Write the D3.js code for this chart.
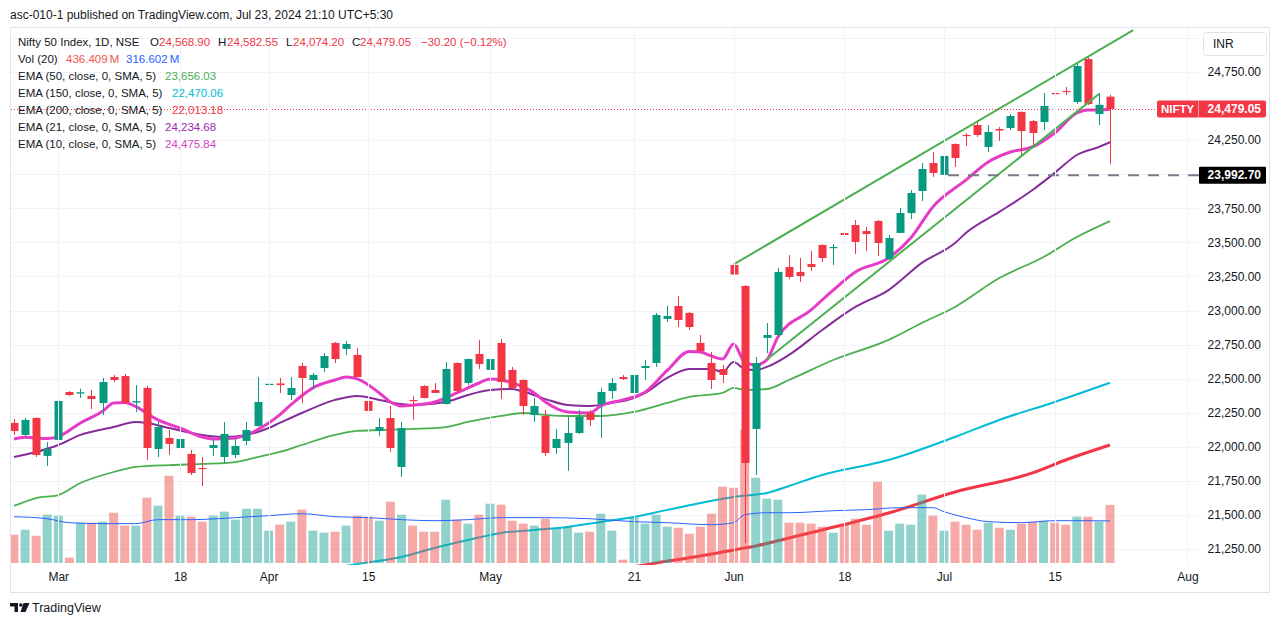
<!DOCTYPE html>
<html><head><meta charset="utf-8">
<script src="https://cdn.jsdelivr.net/npm/d3@7"></script>
<style>body{margin:0;background:#fff;overflow:hidden}</style>
</head><body>
<svg id="c" width="1281" height="627"></svg>
<script>
// ---------- DATA ----------
const dates = ["2024-02-26","2024-02-27","2024-02-28","2024-02-29","2024-03-01","2024-03-02","2024-03-04","2024-03-05","2024-03-06","2024-03-07",
"2024-03-11","2024-03-12","2024-03-13","2024-03-14","2024-03-15","2024-03-18","2024-03-19","2024-03-20","2024-03-21","2024-03-22",
"2024-03-26","2024-03-27","2024-03-28","2024-04-01","2024-04-02","2024-04-03","2024-04-04","2024-04-05","2024-04-08","2024-04-09",
"2024-04-10","2024-04-12","2024-04-15","2024-04-16","2024-04-18","2024-04-19","2024-04-22","2024-04-23","2024-04-24","2024-04-25",
"2024-04-26","2024-04-29","2024-04-30","2024-05-02","2024-05-03","2024-05-06","2024-05-07","2024-05-08","2024-05-09","2024-05-10",
"2024-05-13","2024-05-14","2024-05-15","2024-05-16","2024-05-17","2024-05-18","2024-05-21","2024-05-22","2024-05-23","2024-05-24",
"2024-05-27","2024-05-28","2024-05-29","2024-05-30","2024-05-31","2024-06-03","2024-06-04","2024-06-05","2024-06-06","2024-06-07",
"2024-06-10","2024-06-11","2024-06-12","2024-06-13","2024-06-14","2024-06-18","2024-06-19","2024-06-20","2024-06-21","2024-06-24",
"2024-06-25","2024-06-26","2024-06-27","2024-06-28","2024-07-01","2024-07-02","2024-07-03","2024-07-04","2024-07-05","2024-07-08",
"2024-07-09","2024-07-10","2024-07-11","2024-07-12","2024-07-15","2024-07-16","2024-07-18","2024-07-19","2024-07-22","2024-07-23"];

const open = [22175,22087,22212,21933,22050,22402,22390,22373,22321,22512,
22519,22325,22432,21984,22065,21991,21947,21845,21991,21925,
21940,22043,22153,22455,22465,22380,22593,22490,22578,22762,
22718,22674,22336,22116,22211,21852,22343,22446,22417,22314,
22615,22468,22681,22564,22762,22564,22490,22233,22226,21991,
22028,22101,22248,22314,22409,22512,22395,22578,22615,22938,
23033,22982,22762,22615,22571,23334,23180,22131,22799,22820,
23319,23283,23341,23481,23459,23569,23627,23583,23657,23378,
23569,23715,23877,24082,23995,24222,24288,24361,24200,24332,
24339,24457,24390,24383,24596,24611,24530,24845,24442,24568.90];

const high = [22204,22212,22215,22035,22351,22409,22426,22417,22505,22527,
22534,22453,22446,22182,22123,22116,21977,21925,22050,22182,
22065,22182,22512,22527,22505,22512,22615,22542,22688,22768,
22776,22725,22417,22211,22300,22182,22373,22452,22468,22622,
22620,22648,22784,22710,22791,22586,22495,22358,22270,22131,
22219,22270,22270,22432,22505,22527,22593,22637,22982,23033,
23106,22989,22820,22696,22600,23340,23185,22659,22908,23312,
23407,23385,23437,23485,23488,23572,23664,23613,23664,23554,
23752,23884,24082,24163,24140,24226,24302,24398,24361,24346,
24442,24460,24398,24596,24633,24640,24816,24860,24595,24582.55];

const low = [22087,22080,21925,21859,22043,22373,22358,22277,22233,22475,
22321,22255,21903,21925,21940,21940,21793,21713,21933,21881,
21918,22013,22146,22417,22395,22343,22321,22424,22549,22615,
22673,22512,22263,22080,21962,21779,22197,22355,22395,22310,
22395,22453,22571,22560,22351,22424,22233,22182,21933,21948,
21823,22094,22153,22065,22351,22490,22390,22490,22586,22916,
22879,22857,22688,22424,22468,23063,21294,21793,22688,22806,
23231,23209,23290,23356,23334,23495,23415,23437,23400,23371,
23569,23671,23803,23980,23992.70,24053,24207,24273,24163,24244,
24324,24141,24207,24324,24523,24581,24515,24508,24361,24074.20];

const close = [22116,22197,21940,21984,22336,22380,22400,22350,22475,22490,
22321,22335,21991,22145,22021,22057,21808,21839,22013,22094,
22006,22123,22329,22462,22453,22432,22505,22527,22666,22644,
22754,22512,22263,22145,21991,22138,22336,22358,22395,22571,
22409,22644,22608,22644,22475,22432,22299,22299,21955,22057,
22101,22219,22197,22402,22468,22497,22527,22593,22967,22960,
22930,22879,22703,22490,22527,23264,21881,22615,22820,23283,
23246,23253,23319,23385,23466,23554,23503,23561,23495,23532,
23715,23862,24038,24009,24134,24119,24281,24288,24310,24320,
24427,24317,24302,24501,24589,24603,24794,24515,24509.25,24479.05];

// volume in millions
const volume = [213,250,205,363,356,40,303,303,311,378,
281,281,491,431,656,356,348,311,356,386,
326,408,408,243,288,311,401,243,228,235,
281,356,348,318,461,363,281,235,235,476,
326,296,363,446,438,318,296,281,333,258,
273,228,235,371,243,25,341,296,363,273,
265,220,273,371,574,566,1002,641,484,476,
303,303,296,273,228,288,333,288,611,243,
296,288,514,356,243,311,288,250,303,265,
250,296,311,318,303,288,348,348,311,436.409];

// indicator readings: [bar index, value]
const volMA = [[0,348],[3,333],[5,303],[8,296],[11,296],[13,326],[16,326],[20,341],[23,356],[26,371],[29,348],[32,341],[35,326],[38,318],[41,326],[44,341],[48,341],[52,333],[56,311],[59,303],[63,288],[65,303],[66,363],[68,378],[70,378],[74,393],[77,401],[80,416],[83,416],[84,386],[86,341],[88,311],[91,303],[94,318],[97,318],[99,316.602]];
const ema10 = [[0,22057],[1,22070],[3,22060],[4,22075],[6,22175],[8,22260],[9,22322],[10,22325],[11,22295],[13,22197],[15,22138],[17,22072],[18,22057],[20,22065],[21,22087],[23,22175],[24,22234],[25,22307],[27,22432],[29,22490],[30,22512],[31,22498],[33,22395],[34,22329],[35,22300],[36,22305],[38,22329],[40,22395],[42,22468],[43,22498],[44,22490],[46,22439],[47,22395],[48,22329],[50,22256],[52,22248],[53,22300],[55,22344],[57,22400],[59,22560],[61,22700],[62,22695],[63,22666],[64,22644],[65,22754],[66,22622],[67,22600],[68,22637],[69,22806],[72,23004],[74,23150],[76,23283],[79,23385],[81,23532],[83,23760],[86,23958],[88,24090],[90,24163],[92,24200],[94,24302],[96,24449],[97,24471],[98,24470],[99,24475.84]];
const ema21 = [[0,21925],[2,21962],[4,22013],[6,22087],[9,22145],[11,22182],[12,22175],[14,22138],[17,22087],[19,22072],[21,22087],[23,22138],[24,22175],[26,22248],[29,22344],[31,22373],[33,22344],[35,22314],[36,22307],[39,22329],[41,22380],[43,22417],[45,22424],[46,22405],[48,22350],[50,22307],[52,22300],[54,22322],[56,22358],[57,22395],[59,22505],[61,22571],[63,22571],[64,22549],[65,22622],[66,22571],[67,22564],[68,22586],[70,22674],[73,22857],[76,23026],[79,23150],[82,23349],[85,23495],[86,23570],[89,23723],[92,23884],[94,24009],[96,24141],[98,24200],[99,24234.68]];
const ema50 = [[0,21566],[2,21624],[4,21646],[6,21734],[9,21815],[11,21852],[14,21866],[17,21874],[20,21888],[22,21925],[24,21962],[26,22013],[29,22087],[31,22116],[33,22123],[36,22131],[39,22145],[41,22182],[44,22226],[46,22248],[48,22234],[50,22226],[53,22226],[56,22256],[59,22322],[61,22366],[64,22395],[65,22432],[66,22417],[68,22424],[70,22490],[74,22637],[79,22784],[82,22908],[85,23026],[89,23238],[93,23393],[96,23539],[99,23656.03]];
const ema150 = [[20,20990],[31,21140],[35,21192],[38,21258],[41,21316],[44,21368],[47,21390],[50,21412],[53,21448],[56,21485],[59,21537],[62,21588],[65,21632],[68,21661],[70,21712],[73,21793],[79,21903],[85,22072],[89,22197],[94,22329],[99,22470.06]];
const ema200 = [[50,21030],[58,21148],[62,21199],[65,21243],[67,21272],[70,21331],[73,21390],[79,21514],[85,21668],[92,21808],[95,21903],[99,22013.18]];

// drawings: [bar index, price]
const upperTrend = [[65,23338],[101.1,25058]];
const lowerTrend = [[68,22640],[98,24588]];
const hLevel = {from:84, price:23992.70};

const gridTicks = [21250,21500,21750,22000,22250,22500,22750,23000,23250,23500,23750,24000,24250,24500,24750,25000];
const priceTicks = [21250,21500,21750,22000,22250,22500,22750,23000,23250,23500,23750,24000,24250,24500,24750];
const timeTickIdx = [4,15,23,32,43,56,65,75,84,94,106];
const timeTickLabels = ["Mar","18","Apr","15","May","21","Jun","18","Jul","15","Aug"];

const emaDefs = [
  {len:50,  data:ema50,  color:"#4caf50", legend:"#4caf50"},
  {len:150, data:ema150, color:"#00bcd4", legend:"#00bcd4"},
  {len:200, data:ema200, color:"#f23645", legend:"#f23645"},
  {len:21,  data:ema21,  color:"#862d9a", legend:"#9c27b0"},
  {len:10,  data:ema10,  color:"#e63bc6", legend:"#d542c3"}
];

// ---------- DRAW ----------
const font = '"Liberation Sans", Arial, sans-serif';
const dark = "#131722", up = "#089981", dn = "#f23645";
const svg = d3.select("#c");
svg.append("rect").attr("width",1281).attr("height",627).attr("fill","#fff");

const plot = {l:11, r:1199, t:28, b:565};
const x = d3.scaleLinear().domain([0,99]).range([14,1110]);
const y = d3.scaleLinear().domain([21250,24750]).range([549,72]);
const yv = d3.scaleLinear().domain([0,1000]).range([563,430]);
const fmt2 = d3.format(",.2f");

svg.append("defs").append("clipPath").attr("id","pc").append("rect")
  .attr("x",plot.l).attr("y",plot.t).attr("width",plot.r-plot.l).attr("height",plot.b-plot.t);

// title
svg.append("text").attr("x",10).attr("y",19).attr("font-family",font).attr("font-size",12)
  .attr("fill",dark).text("asc-010-1 published on TradingView.com, Jul 23, 2024 21:10 UTC+5:30");

// frame
svg.append("rect").attr("x",10.5).attr("y",27.5).attr("width",1259).attr("height",565)
  .attr("fill","none").attr("stroke","#e0e3eb");

// grid
const g = svg.append("g").attr("clip-path","url(#pc)");
g.selectAll(".hg").data(gridTicks).join("line")
  .attr("x1",plot.l).attr("x2",plot.r).attr("y1",d=>Math.round(y(d))+0.5).attr("y2",d=>Math.round(y(d))+0.5)
  .attr("stroke","#f0f3fa");
svg.selectAll(".vg").data(timeTickIdx).join("line")
  .attr("x1",d=>Math.round(x(d))+0.5).attr("x2",d=>Math.round(x(d))+0.5).attr("y1",plot.t).attr("y2",plot.b)
  .attr("stroke","#f0f3fa");

// EMAs
const line = d3.line().x(d=>x(d[0])).y(d=>y(d[1])).curve(d3.curveMonotoneX);
const widths = {10:3, 21:2, 50:1.8, 150:2, 200:3};
emaDefs.forEach(e=>{
  g.append("path").attr("d",line(e.data)).attr("fill","none")
   .attr("stroke",e.color).attr("stroke-width",widths[e.len]).attr("stroke-linejoin","round");
});

// volume
const idx = d3.range(close.length);
g.selectAll(".vol").data(idx).join("rect")
  .attr("x",i=>x(i)-4.5).attr("width",9)
  .attr("y",i=>yv(volume[i])).attr("height",i=>yv(0)-yv(volume[i]))
  .attr("fill",i=>close[i]>=open[i]?"rgba(38,166,154,0.5)":"rgba(239,83,80,0.5)");
const vline = d3.line().x(d=>x(d[0])).y(d=>yv(d[1])).curve(d3.curveMonotoneX);
g.append("path").attr("d",vline(volMA)).attr("fill","none").attr("stroke","#2962ff").attr("stroke-width",1);

// candles
const cg = g.append("g");
idx.forEach(i=>{
  const c = close[i]>=open[i]?up:dn;
  const xc = Math.round(x(i))+0.5;
  cg.append("line").attr("x1",xc).attr("x2",xc).attr("y1",y(high[i])).attr("y2",y(low[i]))
    .attr("stroke",c).attr("stroke-width",1);
  const y0 = y(Math.max(open[i],close[i])), y1 = y(Math.min(open[i],close[i]));
  cg.append("rect").attr("x",xc-4).attr("width",8).attr("y",y0).attr("height",Math.max(1.2,y1-y0)).attr("fill",c);
});

// trendlines
[upperTrend, lowerTrend].forEach(t=>{
  g.append("line").attr("x1",x(t[0][0])).attr("y1",y(t[0][1])).attr("x2",x(t[1][0])).attr("y2",y(t[1][1]))
   .attr("stroke","#4caf50").attr("stroke-width",2);
});

// last price dotted line
const lastY = Math.round(y(close[99]))+0.5;
g.append("line").attr("x1",plot.l).attr("x2",plot.r).attr("y1",lastY).attr("y2",lastY)
  .attr("stroke","#f23645").attr("stroke-width",1).attr("stroke-dasharray","1,2");

// horizontal level
const hy = y(hLevel.price);
g.append("line").attr("x1",x(hLevel.from)+4).attr("x2",plot.r).attr("y1",hy).attr("y2",hy)
  .attr("stroke","#787b86").attr("stroke-width",2).attr("stroke-dasharray","11,9");

// price axis
const ax = svg.append("g").attr("transform",`translate(${plot.r},0)`)
  .call(d3.axisRight(y).tickValues(priceTicks).tickFormat(fmt2).tickSize(0));
ax.select(".domain").remove();
ax.selectAll("text").attr("x",62).attr("text-anchor","end").attr("font-size",12)
  .attr("fill",dark).attr("font-family",font);

// time axis
const tx = svg.append("g").attr("transform",`translate(0,${plot.b})`)
  .call(d3.axisBottom(x).tickValues(timeTickIdx).tickFormat((d,i)=>timeTickLabels[i]).tickSize(0).tickPadding(7));
tx.select(".domain").remove();
tx.selectAll("text").attr("font-size",12).attr("fill",dark).attr("font-family",font);

// INR box
svg.append("rect").attr("x",1203.5).attr("y",32.5).attr("width",63).attr("height",23).attr("rx",3)
  .attr("fill","#fff").attr("stroke","#e0e3eb");
svg.append("text").attr("x",1213).attr("y",48).attr("font-family",font).attr("font-size",12)
  .attr("fill",dark).text("INR");

// NIFTY label
const ly = y(close[99]);
svg.append("rect").attr("x",1157).attr("y",ly-8.5).attr("width",109).attr("height",17).attr("rx",2).attr("fill","#f23645");
svg.append("line").attr("x1",1198.5).attr("x2",1198.5).attr("y1",ly-8.5).attr("y2",ly+8.5).attr("stroke","#f89aa2");
svg.append("text").attr("x",1177.5).attr("y",ly+4).attr("text-anchor","middle").attr("font-family",font)
  .attr("font-size",11.5).attr("font-weight","bold").attr("fill","#fff").text("NIFTY");
svg.append("text").attr("x",1261).attr("y",ly+4).attr("text-anchor","end").attr("font-family",font)
  .attr("font-size",12).attr("font-weight","bold").attr("fill","#fff").text(fmt2(close[99]));

// level label
svg.append("rect").attr("x",1199).attr("y",hy-8.5).attr("width",67).attr("height",17).attr("rx",1).attr("fill","#000");
svg.append("text").attr("x",1261).attr("y",hy+4).attr("text-anchor","end").attr("font-family",font)
  .attr("font-size",12).attr("font-weight","bold").attr("fill","#fff").text(fmt2(hLevel.price));

// legend
function txt(xp, yp, s, col){
  svg.append("text").attr("x",xp).attr("y",yp).attr("font-family",font).attr("font-size",11.5)
    .attr("fill",col).text(s);
}
const L = 46, dy = 17;
const chg = close[99]-close[98], pct = chg/close[98]*100;
const mfmt = v => (v<0?"\u2212":"") + fmt2(Math.abs(v));
txt(18,L,"Nifty 50 Index, 1D, NSE",dark);
txt(150,L,"O",dark); txt(159,L,fmt2(open[99]),dn);
txt(218,L,"H",dark); txt(227,L,fmt2(high[99]),dn);
txt(286,L,"L",dark); txt(293,L,fmt2(low[99]),dn);
txt(352,L,"C",dark); txt(360,L,fmt2(close[99]),dn);
txt(421,L,`${mfmt(chg)} (${mfmt(pct)}%)`,dn);
txt(18,L+dy,"Vol (20)",dark);
txt(66,L+dy,d3.format(".3f")(volume[99])+"\u202FM","#ef5350");
txt(126,L+dy,d3.format(".3f")(volMA[volMA.length-1][1])+"\u202FM","#2962ff");
emaDefs.forEach((e,k)=>{
  const yy = L+dy*(k+2);
  txt(18,yy,`EMA (${e.len}, close, 0, SMA, 5)`,dark);
  txt(e.len>=100?172:165,yy,fmt2(e.data[e.data.length-1][1]),e.legend);
});

// footer logo
const lg = svg.append("g").attr("fill",dark);
lg.append("path").attr("d","M10,603 H18 V612 H14.5 V606.5 H10 Z");
lg.append("circle").attr("cx",20.8).attr("cy",605).attr("r",1.8);
lg.append("path").attr("d","M23.5,603 H29.5 L25.5,612 H20.5 Z");
svg.append("text").attr("x",32).attr("y",612).attr("font-family",font).attr("font-size",12.5)
  .attr("fill",dark).text("TradingView");
</script>
</body></html>
